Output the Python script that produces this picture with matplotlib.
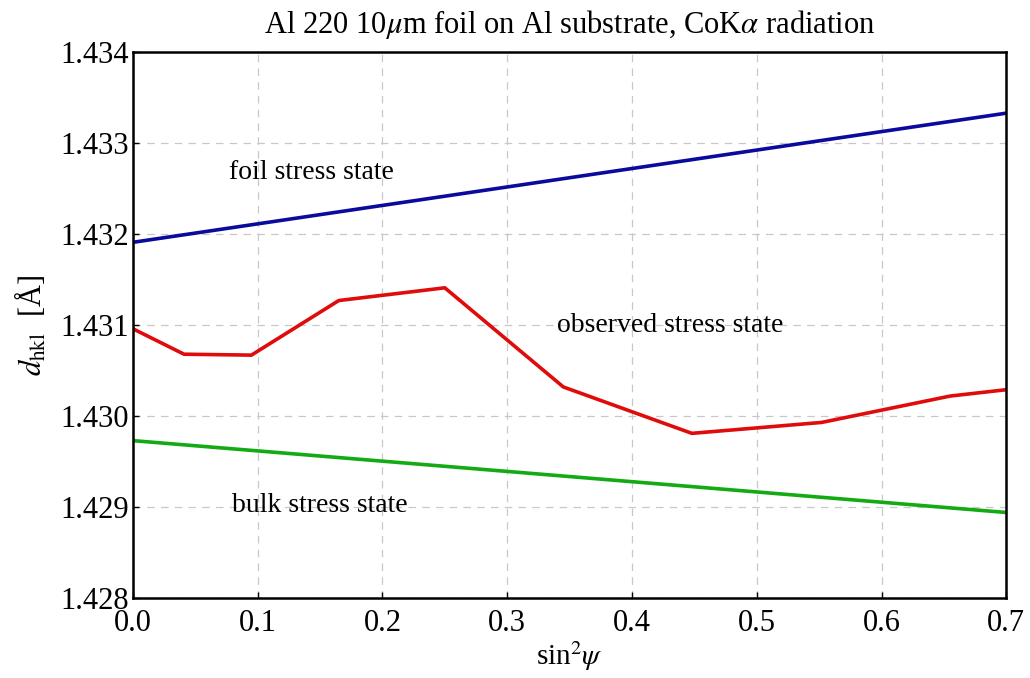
import numpy as np
import matplotlib
matplotlib.use("Agg")
import matplotlib.pyplot as plt

plt.rcParams['font.family'] = ['Liberation Serif', 'DejaVu Serif']
plt.rcParams['mathtext.fontset'] = 'stix'

# sin^2(psi) positions and d-spacings
obs_x = [0.0, 0.041, 0.095, 0.165, 0.25, 0.345, 0.448, 0.552, 0.655, 0.70]
obs_d = [1.43096, 1.43068, 1.43067, 1.43127, 1.43141, 1.43032, 1.42981, 1.42993, 1.43022, 1.43029]

foil_x = [0.0, 0.7]
foil_d = [1.43191, 1.43333]

bulk_x = [0.0, 0.7]
bulk_d = [1.42973, 1.42894]

xticks = [0.0, 0.1, 0.2, 0.3, 0.4, 0.5, 0.6, 0.7]
yticks = [1.428, 1.429, 1.430, 1.431, 1.432, 1.433, 1.434]

fig = plt.figure(figsize=(10.3, 6.78), dpi=100)
ax = fig.add_axes([0.129, 0.118, 0.848, 0.805])

ax.plot(foil_x, foil_d, color='#0a0a9c', lw=2.6)
ax.plot(obs_x, obs_d, color='#e00c0c', lw=2.6)
ax.plot(bulk_x, bulk_d, color='#14aa14', lw=2.6)

ax.set_xlim(0, 0.7)
ax.set_ylim(1.428, 1.434)
ax.set_xticks(xticks)
ax.set_xticklabels(['%.1f' % v for v in xticks])
ax.set_yticks(yticks)
ax.set_yticklabels(['%.3f' % v for v in yticks])
ax.tick_params(direction='in', length=4, width=1, labelsize=22, pad=3)
ax.tick_params(axis='x', pad=8)
ax.grid(True, color='#c8c8c8', ls=(0, (6, 5)), lw=0.9)
for sp in ax.spines.values():
    sp.set_linewidth(1.8)

ax.text(0.143, 1.43268, 'foil stress state', fontsize=20, ha='center', va='center')
ax.text(0.431, 1.43100, 'observed stress state', fontsize=20, ha='center', va='center')
ax.text(0.150, 1.42902, 'bulk stress state', fontsize=20, ha='center', va='center')

ax.set_title(r'Al 220 10$\mu$m foil on Al substrate, CoK$\alpha$ radiation', fontsize=22, pad=14)
ax.set_xlabel(r'sin$^2\psi$', fontsize=21, labelpad=1)
ax.set_ylabel(r'$d_{\rm hkl}$  [Å]', fontsize=22, labelpad=8)

fig.savefig('out.png', dpi=100)
